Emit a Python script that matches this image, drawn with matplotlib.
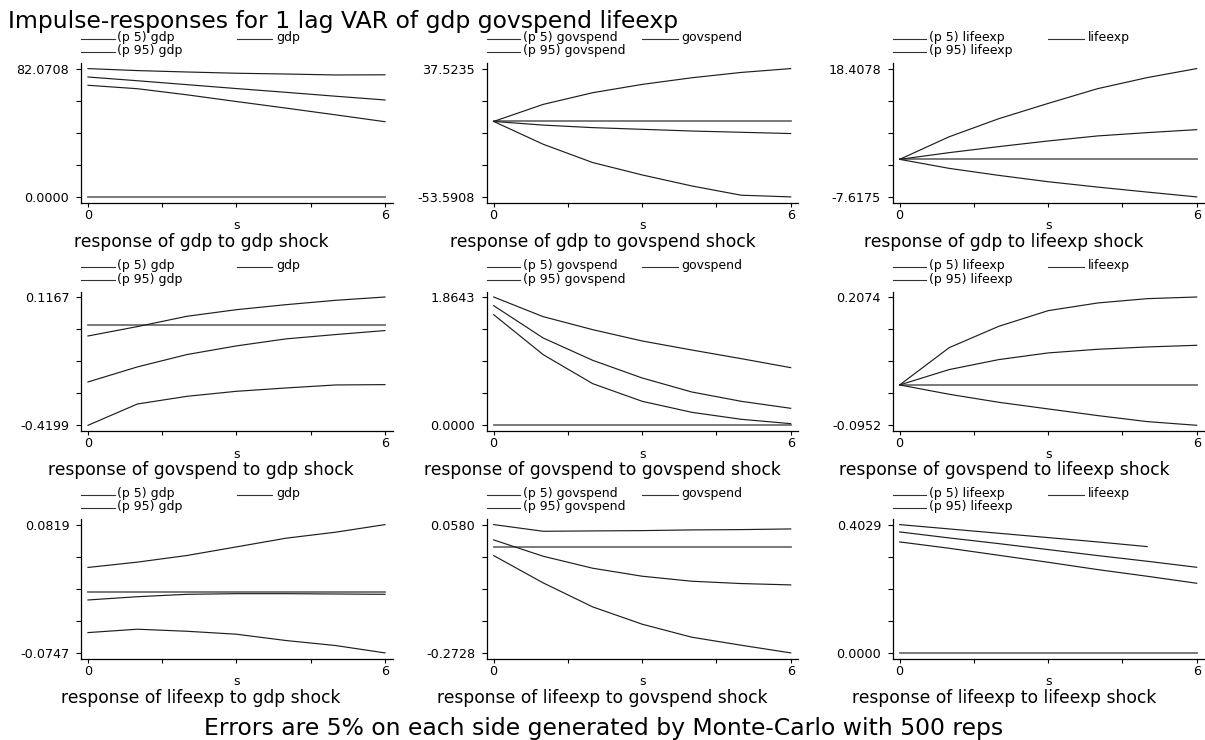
import numpy as np
import matplotlib.pyplot as plt
from matplotlib.lines import Line2D

steps = [0, 1, 2, 3, 4, 5, 6]
variables = ['gdp', 'govspend', 'lifeexp']

# response of <row> to <column> shock: rows are (p 5), irf, (p 95)
gdp_gdp = [[71.4, 69.2, 65.3, 61.0, 56.8, 52.5, 48.1],
           [76.7, 74.3, 71.8, 69.3, 66.9, 64.4, 62.0],
           [82.0708, 80.8, 79.9, 79.1, 78.6, 78.0, 78.1]]
gdp_govspend = [[0, -16.2, -29.2, -38.0, -45.8, -52.4, -53.5908],
                [0, -2.6, -4.4, -5.6, -6.8, -7.7, -8.6],
                [0, 12.1, 20.4, 26.3, 31.0, 34.8, 37.5235]]
gdp_lifeexp = [[0, -1.83, -3.25, -4.54, -5.63, -6.64, -7.6175],
               [0, 1.36, 2.58, 3.73, 4.75, 5.42, 6.02],
               [0, 4.58, 8.24, 11.35, 14.34, 16.58, 18.4078]]
govspend_gdp = [[-0.4199, -0.3307, -0.2987, -0.2777, -0.2638, -0.2512, -0.2498],
                [-0.2387, -0.1756, -0.1240, -0.0878, -0.0585, -0.0404, -0.0237],
                [-0.0464, -0.0070, 0.0361, 0.0637, 0.0846, 0.1028, 0.1167]]
govspend_govspend = [[1.6076, 1.0266, 0.6053, 0.3486, 0.1889, 0.0872, 0.0242],
                     [1.7384, 1.2687, 0.9443, 0.6876, 0.4843, 0.3486, 0.2470],
                     [1.8643, 1.5786, 1.3898, 1.2251, 1.0944, 0.9685, 0.8378]]
govspend_lifeexp = [[0, -0.0220, -0.0409, -0.0566, -0.0723, -0.0865, -0.0952],
                    [0, 0.0362, 0.0597, 0.0755, 0.0841, 0.0896, 0.0935],
                    [0, 0.0879, 0.1382, 0.1752, 0.1933, 0.2035, 0.2074]]
lifeexp_gdp = [[-0.0499, -0.0458, -0.0483, -0.0519, -0.0596, -0.0657, -0.0747],
               [-0.0101, -0.0061, -0.0032, -0.0024, -0.0024, -0.0028, -0.0032],
               [0.0296, 0.0361, 0.0442, 0.0547, 0.0653, 0.0726, 0.0819]]
lifeexp_govspend = [[-0.0219, -0.0923, -0.1542, -0.1988, -0.2323, -0.2530, -0.2728],
                    [0.0185, -0.0236, -0.0545, -0.0751, -0.0880, -0.0940, -0.0975],
                    [0.0580, 0.0408, 0.0417, 0.0425, 0.0443, 0.0451, 0.0468]]
lifeexp_lifeexp = [[0.3485, 0.3286, 0.3066, 0.2846, 0.2616, 0.2407, 0.2187],
                   [0.3799, 0.3610, 0.3432, 0.3244, 0.3056, 0.2878, 0.2689],
                   [0.4029, 0.3893, 0.3757, 0.3621, 0.3485, 0.3338, np.nan]]

panels = [[gdp_gdp, gdp_govspend, gdp_lifeexp],
          [govspend_gdp, govspend_govspend, govspend_lifeexp],
          [lifeexp_gdp, lifeexp_govspend, lifeexp_lifeexp]]

W, H = 1205, 740
fig = plt.figure(figsize=(W / 100, H / 100), dpi=100)
plt.rcParams['font.family'] = 'DejaVu Sans'


def ftext(x, y, s, **kw):
    fig.text(x / W, 1 - y / H, s, **kw)


def fline(x0, x1, y, **kw):
    fig.add_artist(Line2D([x0 / W, x1 / W], [1 - y / H, 1 - y / H],
                          transform=fig.transFigure, **kw))


col_left = [81, 486.7, 892.7]
row_top = [63.3, 291.7, 519.3]
ax_w, ax_h = 311.5, 139.6
line_col = '#1e1e1e'

for r in range(3):
    for c in range(3):
        left, top = col_left[c], row_top[r]
        ax = fig.add_axes([left / W, 1 - (top + ax_h) / H, ax_w / W, ax_h / H])
        data = np.array(panels[r][c], dtype=float)
        lo = min(np.nanmin(data), 0)
        hi = max(np.nanmax(data), 0)

        ax.plot(steps, [0] * len(steps), color='#6e6e6e', lw=1.3)
        for series in data:
            ax.plot(steps, series, color=line_col, lw=0.85)

        span = hi - lo
        ax.set_ylim(lo - 0.0468 * span, hi + 0.0413 * span)
        ax.set_xlim(-0.141, 6.152)
        ax.set_yticks(np.linspace(lo, hi, 5))
        ax.set_yticklabels(['%.4f' % lo, '', '', '', '%.4f' % hi])
        ax.set_xticks([0, 1.5, 3, 4.5, 6])
        ax.set_xticklabels(['0', '', '', '', '6'])
        for side in ['top', 'right']:
            ax.spines[side].set_visible(False)
        for side in ['left', 'bottom']:
            ax.spines[side].set_linewidth(0.9)
        ax.tick_params(axis='y', length=3.6, width=0.8, pad=4.8, labelsize=9.2)
        ax.tick_params(axis='x', length=2.9, width=0.8, pad=1.2, labelsize=9.2)

        imp = variables[c]
        resp = variables[r]
        # legend
        y1, y2 = top - 24.7, top - 11.5
        fline(left, left + 33.5, y1, color='#333333', lw=0.8)
        ftext(left + 36, y1 - 1, '(p 5) ' + imp, fontsize=9, va='center')
        fline(left + 155.7, left + 191, y1, color='#333333', lw=0.8)
        ftext(left + 195, y1 - 1, imp, fontsize=9, va='center')
        fline(left, left + 33.5, y2, color='#333333', lw=0.8)
        ftext(left + 36, y2 - 1, '(p 95) ' + imp, fontsize=9, va='center')

        ftext(left + 155.5, top + ax_h + 26.5, 's', fontsize=9,
              ha='center', va='baseline')
        ftext((2 * c + 1) * W / 6, top + ax_h + 44,
              'response of %s to %s shock' % (resp, imp),
              fontsize=12.3, ha='center', va='baseline')

ftext(8, 28.3, 'Impulse-responses for 1 lag VAR of gdp govspend lifeexp',
      fontsize=16.9, ha='left', va='baseline')
ftext(604, 735, 'Errors are 5% on each side generated by Monte-Carlo with 500 reps',
      fontsize=16.9, ha='center', va='baseline')

fig.savefig('out.png', dpi=100)
